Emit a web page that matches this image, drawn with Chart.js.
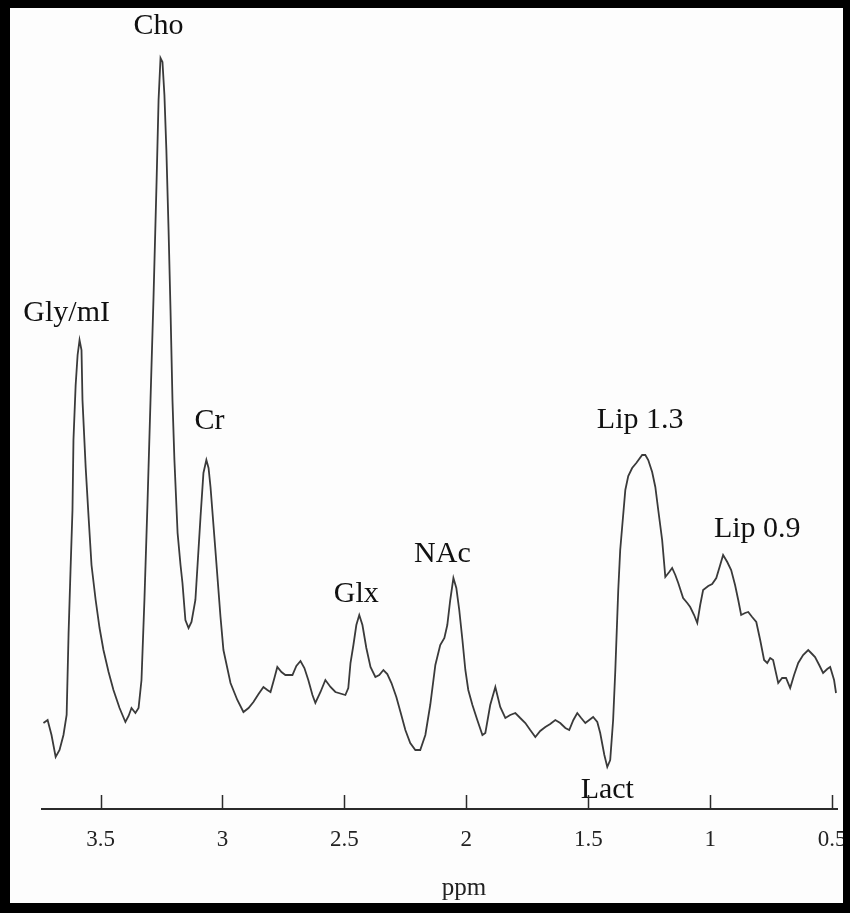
<!DOCTYPE html>
<html>
<head>
<meta charset="utf-8">
<script src="https://cdn.jsdelivr.net/npm/chart.js@4"></script>
<style>
    body { margin: 0; background: #000; }
    #frame {
        width: 850px;
        height: 913px;
        box-sizing: border-box;
        border-style: solid;
        border-color: #000;
        border-width: 8px 7px 10px 10px;
        background: #fdfdfd;
    }
    canvas { display: block; }
</style>
</head>
<body>
<div id="frame"><canvas id="spectrum" width="833" height="895"></canvas></div>
<script>
// chemical shift (ppm) and signal (a.u.)
const ppm = [
    3.734, 3.717, 3.701, 3.684, 3.668, 3.652, 3.639, 3.631, 3.623, 3.615,
    3.611, 3.602, 3.594, 3.586, 3.578, 3.574, 3.561, 3.549, 3.537, 3.520,
    3.504, 3.488, 3.467, 3.447, 3.422, 3.398, 3.385, 3.373, 3.357, 3.344,
    3.332, 3.320, 3.307, 3.295, 3.283, 3.270, 3.262, 3.254, 3.246, 3.238,
    3.230, 3.221, 3.213, 3.205, 3.197, 3.184, 3.172, 3.164, 3.152, 3.139,
    3.127, 3.111, 3.090, 3.078, 3.066, 3.057, 3.049, 3.029, 3.008, 2.996,
    2.967, 2.939, 2.914, 2.893, 2.873, 2.852, 2.832, 2.816, 2.803, 2.787,
    2.775, 2.758, 2.742, 2.713, 2.697, 2.680, 2.664, 2.648, 2.631, 2.619,
    2.598, 2.578, 2.557, 2.537, 2.496, 2.484, 2.475, 2.463, 2.451, 2.439,
    2.426, 2.410, 2.393, 2.373, 2.357, 2.340, 2.324, 2.307, 2.287, 2.270,
    2.250, 2.230, 2.209, 2.189, 2.168, 2.148, 2.127, 2.107, 2.090, 2.078,
    2.066, 2.053, 2.041, 2.029, 2.016, 2.004, 1.992, 1.975, 1.955, 1.934,
    1.922, 1.902, 1.881, 1.861, 1.840, 1.820, 1.799, 1.779, 1.758, 1.738,
    1.717, 1.697, 1.676, 1.656, 1.635, 1.615, 1.594, 1.578, 1.561, 1.545,
    1.529, 1.512, 1.496, 1.480, 1.463, 1.451, 1.434, 1.422, 1.410, 1.398,
    1.389, 1.377, 1.369, 1.361, 1.348, 1.336, 1.320, 1.303, 1.279, 1.266,
    1.254, 1.238, 1.225, 1.213, 1.197, 1.184, 1.168, 1.156, 1.143, 1.131,
    1.111, 1.094, 1.082, 1.066, 1.053, 1.041, 1.029, 1.008, 0.992, 0.975,
    0.959, 0.947, 0.930, 0.914, 0.898, 0.885, 0.873, 0.857, 0.844, 0.828,
    0.811, 0.795, 0.779, 0.766, 0.754, 0.742, 0.721, 0.705, 0.689, 0.672,
    0.656, 0.639, 0.619, 0.598, 0.582, 0.570, 0.553, 0.537, 0.520, 0.508,
    0.492, 0.484
];
const signal = [
    86, 89, 74, 52, 59, 74, 94, 176, 239, 299,
    369, 424, 454, 469, 459, 409, 342, 292, 244, 209,
    181, 159, 137, 119, 101, 87, 93, 101, 96, 101,
    129, 209, 309, 409, 509, 629, 709, 751, 747, 714,
    659, 579, 499, 409, 349, 276, 244, 226, 189, 181,
    187, 209, 292, 336, 349, 341, 322, 259, 192, 159,
    126, 109, 97, 101, 107, 115, 122, 119, 117, 131,
    142, 137, 134, 134, 143, 148, 141, 129, 114, 106,
    117, 129, 122, 117, 114, 121, 146, 164, 184, 194,
    184, 161, 142, 132, 134, 139, 135, 126, 112, 97,
    79, 66, 59, 59, 74, 104, 144, 164, 171, 184,
    209, 231, 221, 199, 169, 139, 119, 104, 89, 74,
    76, 104, 122, 102, 91, 94, 96, 91, 86, 79,
    72, 78, 82, 85, 89, 86, 81, 79, 89, 96,
    91, 86, 89, 92, 87, 76, 54, 42, 49, 89,
    139, 219, 259, 282, 319, 333, 341, 346, 354, 354,
    349, 337, 322, 299, 269, 232, 237, 241, 234, 226,
    211, 206, 202, 194, 186, 204, 219, 223, 225, 231,
    244, 254, 247, 239, 224, 209, 194, 196, 197, 192,
    187, 169, 149, 146, 151, 149, 126, 131, 131, 121,
    134, 146, 154, 159, 155, 152, 144, 136, 140, 142,
    129, 116
];

// peak assignments: name, position (ppm), label height (a.u.)
const peakNames = ['Gly/mI', 'Cho', 'Cr', 'Glx', 'NAc', 'Lip 1.3', 'Lip 0.9', 'Lact'];
const peakPpm = [3.639, 3.262, 3.053, 2.451, 2.098, 1.287, 0.807, 1.422];
const peakLabelY = [488, 775, 380, 207, 247, 381, 272, 11];

const tickValues = [3.5, 3, 2.5, 2, 1.5, 1, 0.5];

const ink = '#2b2b2b';
const serif = '"Liberation Serif", "Times New Roman", serif';

const peakLabels = {
    id: 'peakLabels',
    afterDraw(chart) {
        const {ctx, scales: {x, y}} = chart;
        ctx.save();
        ctx.fillStyle = '#111';
        ctx.font = '30px ' + serif;
        ctx.textAlign = 'center';
        ctx.textBaseline = 'alphabetic';
        peakNames.forEach((name, i) => {
            ctx.fillText(name, x.getPixelForValue(peakPpm[i]), y.getPixelForValue(peakLabelY[i]));
        });
        // axis title sits a little right of centre in the original
        ctx.fillStyle = '#222';
        ctx.font = '25px ' + serif;
        ctx.fillText('ppm', x.getPixelForValue(2.01), x.bottom - 8);
        ctx.restore();
    }
};

// tick marks point up into the plot, as in the original figure
const upTicks = {
    id: 'upTicks',
    afterDraw(chart) {
        const {ctx, chartArea, scales: {x}} = chart;
        ctx.save();
        ctx.strokeStyle = ink;
        ctx.lineWidth = 1.5;
        x.ticks.forEach((t) => {
            const px = Math.round(x.getPixelForValue(t.value)) + 0.5;
            ctx.beginPath();
            ctx.moveTo(px, chartArea.bottom);
            ctx.lineTo(px, chartArea.bottom - 14);
            ctx.stroke();
        });
        ctx.restore();
    }
};

const ctx = document.getElementById('spectrum');

const data = {
    datasets: [{
        label: 'spectrum',
        data: ppm.map((p, i) => ({x: p, y: signal[i]})),
        borderColor: '#3a3a3a',
        borderWidth: 1.8,
        pointRadius: 0,
        tension: 0,
        fill: false
    }]
};

const options = {
    responsive: false,
    animation: false,
    layout: {
        padding: {left: 32, right: 6, top: 11, bottom: 0}
    },
    plugins: {
        legend: {display: false},
        tooltip: {enabled: false}
    },
    scales: {
        x: {
            type: 'linear',
            reverse: true,
            min: 0.48,
            max: 3.74,
            afterBuildTicks: (scale) => {
                scale.ticks = tickValues.map((v) => ({value: v}));
            },
            afterFit: (scale) => {
                scale.height = 94;
                scale.paddingLeft = 0;
                scale.paddingRight = 0;
            },
            grid: {display: false},
            border: {display: true, color: ink, width: 2},
            ticks: {
                color: '#222',
                padding: 9,
                maxRotation: 0,
                autoSkip: false,
                callback: (value) => String(value),
                font: {family: serif, size: 23}
            }
        },
        y: {
            display: false,
            min: 0,
            max: 790
        }
    }
};

const chart = new Chart(ctx, {
    type: 'line',
    data: data,
    options: options,
    plugins: [peakLabels, upTicks]
});
</script>
</body>
</html>
